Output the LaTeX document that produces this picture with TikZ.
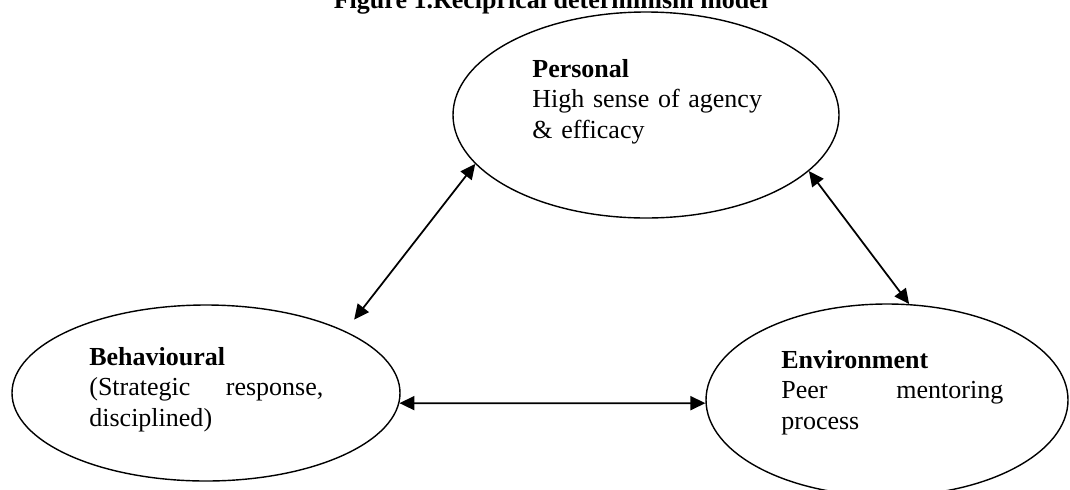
\documentclass[tikz,border=0pt]{standalone}
\usepackage{fontspec}
\setmainfont{Liberation Serif}
\usepackage{tikz}
\usetikzlibrary{shapes.geometric,arrows.meta}

\begin{document}
\begin{tikzpicture}[
  blob/.style={draw, ellipse, line width=0.8pt, inner sep=0pt},
  twoway/.style={line width=1pt, {Triangle[length=0.3cm,width=0.28cm]}-{Triangle[length=0.3cm,width=0.28cm]}},
  lbl/.style={anchor=base west, inner sep=0pt, align=left, font=\fontsize{14.8}{17.4}\selectfont}]
\clip (0,0) rectangle (21.4,-9.78);
\node [anchor=base, inner sep=0pt, font=\fontsize{14.8}{17.4}\selectfont\bfseries] (title) at (11.02,-0.16) {Figure 1.Reciprical determinism model};
% the three ellipses
\node [blob, minimum width=7.72cm, minimum height=4.12cm] (pers) at (12.92,-2.30) {};
\node [blob, minimum width=7.76cm, minimum height=3.52cm] (beh) at (4.12,-7.86) {};
\node [blob, minimum width=7.24cm, minimum height=3.84cm] (env) at (17.74,-8.00) {};
% texts
\node [lbl, text width=4.6cm] (perstxt) at (10.64,-1.54) {\textbf{Personal}\\ High sense of agency\\ \& efficacy};
\node [lbl, text width=4.68cm] (behtxt) at (1.78,-7.30) {\textbf{Behavioural}\\ (Strategic\hfill response,\\ disciplined)};
\node [lbl, text width=4.44cm] (envtxt) at (15.62,-7.36) {\textbf{Environment}\\ Peer\hfill mentoring\\ process};
% arrows
\draw [twoway, shorten >=0.29cm] (pers.196) -- (beh.24);
\draw [twoway] (pers.-19) -- (env.77);
\draw [twoway] (beh.-3) -- (env.181);
\end{tikzpicture}
\end{document}
